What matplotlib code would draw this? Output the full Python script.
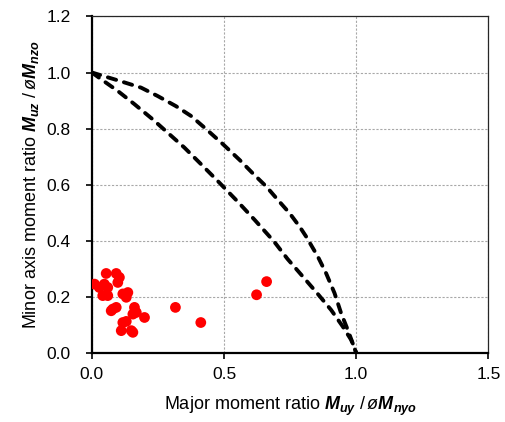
import matplotlib
matplotlib.use('Agg')
import matplotlib.pyplot as plt

plt.rcParams['font.family'] = ['Liberation Sans', 'DejaVu Sans']
plt.rcParams['mathtext.fontset'] = 'custom'
plt.rcParams['mathtext.rm'] = 'Liberation Sans'
plt.rcParams['mathtext.it'] = 'Liberation Sans:italic'
plt.rcParams['mathtext.bf'] = 'Liberation Sans:bold:italic'

# test data: major / minor moment ratios
major_ratio = [0.01, 0.054, 0.092, 0.104, 0.098, 0.047, 0.028, 0.060, 0.041, 0.060,
               0.117, 0.136, 0.130, 0.079, 0.092, 0.073, 0.161, 0.168, 0.155, 0.199,
               0.117, 0.130, 0.111, 0.149, 0.155, 0.316, 0.412, 0.623, 0.661]
minor_ratio = [0.245, 0.283, 0.283, 0.269, 0.251, 0.245, 0.233, 0.233, 0.204, 0.204,
               0.210, 0.215, 0.198, 0.156, 0.162, 0.150, 0.162, 0.144, 0.138, 0.126,
               0.108, 0.112, 0.079, 0.079, 0.073, 0.162, 0.108, 0.207, 0.254]

# interaction curves
outer_x = [0.0, 0.105, 0.186, 0.249, 0.318, 0.375, 0.43, 0.495, 0.559, 0.609, 0.66,
           0.704, 0.748, 0.786, 0.811, 0.855, 0.886, 0.918, 0.943, 0.968, 1.0]
outer_y = [1.0, 0.97, 0.946, 0.916, 0.88, 0.845, 0.80, 0.745, 0.688, 0.64, 0.593,
           0.545, 0.498, 0.45, 0.414, 0.343, 0.284, 0.213, 0.141, 0.082, 0.0]
inner_x = [0.0, 0.035, 0.098, 0.161, 0.230, 0.287, 0.350, 0.415, 0.476, 0.552, 0.616,
           0.672, 0.695, 0.740, 0.798, 0.852, 0.905, 0.949, 0.981, 1.0]
inner_y = [1.0, 0.976, 0.934, 0.887, 0.833, 0.785, 0.732, 0.671, 0.613, 0.539, 0.474,
           0.415, 0.39, 0.335, 0.272, 0.213, 0.153, 0.094, 0.046, 0.0]

fig = plt.figure(figsize=(5.05, 4.22), dpi=100)
ax = fig.add_axes([0.182, 0.164, 0.785, 0.797])

for cx, cy in [(outer_x, outer_y), (inner_x, inner_y)]:
    ax.plot(cx, cy, color='black', lw=2.8, ls=(0, (2.2, 2.1)),
            dash_capstyle='round', zorder=3)
ax.scatter(major_ratio, minor_ratio, s=60, color='#ff0000', edgecolors='none', zorder=4)

ax.set_xlim(0, 1.5); ax.set_ylim(0, 1.2)
ax.set_xticks([0, 0.5, 1.0, 1.5]); ax.set_yticks([0, 0.2, 0.4, 0.6, 0.8, 1.0, 1.2])
ax.set_xticklabels(['0.0', '0.5', '1.0', '1.5'])
ax.set_yticklabels(['0.0', '0.2', '0.4', '0.6', '0.8', '1.0', '1.2'])
ax.grid(True, color='#a8a8a8', lw=0.8, ls=(0, (2, 1.5)), zorder=0)
ax.set_axisbelow(True)
ax.tick_params(direction='out', length=4.5, width=1.2, labelsize=12.5, colors='black')
ax.tick_params(axis='y', pad=11)
ax.tick_params(axis='x', pad=6)

for s in ['left', 'bottom']:
    ax.spines[s].set_linewidth(1.6)
for s in ['top', 'right']:
    ax.spines[s].set_linewidth(0.9); ax.spines[s].set_color('0.15')

ax.set_xlabel(r'Major moment ratio $\mathbf{M_{uy}}$ $\mathit{/\,ø}\mathbf{M_{nyo}}$',
              fontsize=13, labelpad=9)
ax.set_ylabel(r'Minor axis moment ratio $\mathbf{M_{uz}}$ $\mathit{/\,ø}\mathbf{M_{nzo}}$',
              fontsize=13, labelpad=4)

fig.savefig('out.png', dpi=100, facecolor='white')
